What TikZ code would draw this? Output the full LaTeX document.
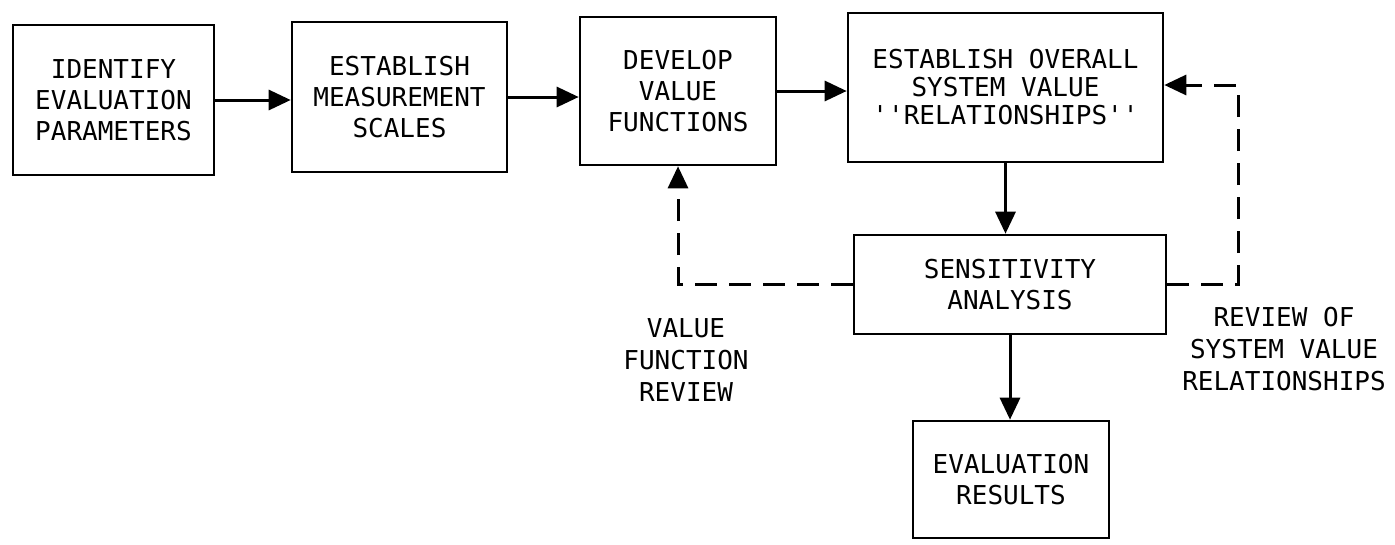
\documentclass[tikz,border=0pt]{standalone}
\usepackage{fontspec}
\newfontfamily\tw{DejaVu Sans Mono}
\usetikzlibrary{arrows.meta}
\begin{document}
\begin{tikzpicture}[x=1pt,y=-1pt,
  every node/.style={font=\tw\fontsize{26}{31}\selectfont, align=center, inner sep=0pt},
  blk/.style={draw, line width=2.6pt, rectangle},
  lbl/.style={font=\tw\fontsize{26}{32}\selectfont},
  flow/.style={line width=3pt, -{Triangle[length=22pt,width=20pt]}},
  fb/.style={flow, dash pattern=on 22pt off 12pt}
]
\useasboundingbox (0,0) rectangle (1395,544);
\node[blk, minimum width=201pt, minimum height=150pt] (b1) at (113.5,100) {IDENTIFY\\EVALUATION\\PARAMETERS};
\node[blk, minimum width=215pt, minimum height=150pt] (b2) at (399.5,97) {ESTABLISH\\MEASUREMENT\\SCALES};
\node[blk, minimum width=196pt, minimum height=148pt] (b3) at (678,91) {DEVELOP\\VALUE\\FUNCTIONS};
\node[blk, minimum width=315pt, minimum height=149pt, font=\tw\fontsize{26}{28}\selectfont] (b4) at (1005.5,87.5) {ESTABLISH OVERALL\\SYSTEM VALUE\\''RELATIONSHIPS''};
\node[blk, minimum width=312pt, minimum height=99pt] (sens) at (1010,284.5) {SENSITIVITY\\ANALYSIS};
\node[blk, minimum width=196pt, minimum height=117pt] (eval) at (1011,479.5) {EVALUATION\\RESULTS};
\node[lbl] (vfr) at (686,360) {VALUE\\FUNCTION\\REVIEW};
\node[lbl] (rsv) at (1284,349) {REVIEW OF\\SYSTEM VALUE\\RELATIONSHIPS};
\coordinate (rc) at (1238,85);
\draw[flow] (b1.east) -- (b2.west |- b1.east);
\draw[flow] (b2.east) -- (b3.west |- b2.east);
\draw[flow] (b3.east) -- (b4.west |- b3.east);
\draw[flow] (b4.south) -- (b4.south |- sens.north);
\draw[flow] (sens.south) -- (sens.south |- eval.north);
\draw[fb] (sens.west) -| (b3.south);
\draw[fb] (sens.east) -| (rc) -- (rc -| b4.east);
\end{tikzpicture}
\end{document}
